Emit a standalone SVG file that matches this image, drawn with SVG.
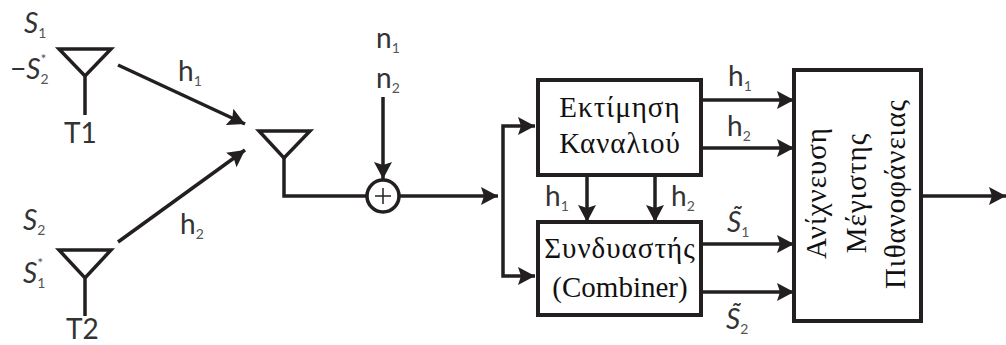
<svg xmlns="http://www.w3.org/2000/svg" width="1006" height="345" viewBox="0 0 1006 345">
<style>
.l{fill:none;stroke:#231f20;stroke-width:3.5}
.b{fill:#fff;stroke:#231f20;stroke-width:4}
.a{font-family:Lato,"Liberation Sans",sans-serif;fill:#333}
.i{font-style:italic}
.s{font-size:28px}.lab{font-size:28px}
.sub{font-size:14px;font-style:normal;fill:#555}
.t{font-family:"Liberation Serif",serif;font-size:29px;fill:#111;text-anchor:middle}
</style>
<defs><marker id="m" markerUnits="userSpaceOnUse" markerWidth="20" markerHeight="20" refX="17" refY="10" orient="auto"><path d="M0 1L17 10L0 19L3 10Z" fill="#231f20"/></marker></defs>
<g id="connectors">
<path class="l" d="M118 65L245 124" marker-end="url(#m)"/>
<path class="l" d="M118 242L245 150" marker-end="url(#m)"/>
<path class="l" d="M284 158V196H367"/>
<path class="l" d="M383 97V179" marker-end="url(#m)"/>
<path class="l" d="M399 196H498" marker-end="url(#m)"/>
<path class="l" d="M503 201V276H535" marker-end="url(#m)"/>
<path class="l" d="M503 201V126H535" marker-end="url(#m)"/>
<path class="l" d="M587 175V222" marker-end="url(#m)"/>
<path class="l" d="M655 175V222" marker-end="url(#m)"/>
<path class="l" d="M701 100H794" marker-end="url(#m)"/>
<path class="l" d="M701 148H794" marker-end="url(#m)"/>
<path class="l" d="M701 244H794" marker-end="url(#m)"/>
<path class="l" d="M701 292H794" marker-end="url(#m)"/>
<path class="l" d="M921 196H1006" marker-end="url(#m)"/>
</g>
<g id="T1"><path class="l" d="M59 49H111L85 76ZM85 76V115"/>
<text class="a i s" x="24" y="33">S<tspan class="sub" dy="5">1</tspan></text>
<text class="a i s" x="10" y="79">−S<tspan class="sub" dy="5">2</tspan><tspan class="sub" dx="-8" dy="-20">*</tspan></text>
<text class="a lab" x="64" y="143">T1</text></g>
<g id="T2"><path class="l" d="M59 250H111L85 278ZM85 278V316"/>
<text class="a i s" x="23" y="230">S<tspan class="sub" dy="5">2</tspan></text>
<text class="a i s" x="23" y="283">S<tspan class="sub" dy="5">1</tspan><tspan class="sub" dx="-8" dy="-20">*</tspan></text>
<text class="a lab" x="66" y="339">T2</text></g>
<g id="Rx"><path class="l" d="M259 131H310L284 158Z"/></g>
<g id="sum"><circle class="l" cx="383" cy="196" r="16"/><path d="M383 188V204M375 196H391" stroke="#231f20" stroke-width="1.5"/></g>
<g id="labels">
<text class="a lab" x="178" y="81">h<tspan class="sub" dy="5">1</tspan></text>
<text class="a lab" x="180" y="234">h<tspan class="sub" dy="5">2</tspan></text>
<text class="a lab" x="376" y="48">n<tspan class="sub" dy="5">1</tspan></text>
<text class="a lab" x="376" y="88">n<tspan class="sub" dy="5">2</tspan></text>
<text class="a lab" x="545" y="206">h<tspan class="sub" dy="5">1</tspan></text>
<text class="a lab" x="671" y="206">h<tspan class="sub" dy="5">2</tspan></text>
<text class="a lab" x="728" y="86">h<tspan class="sub" dy="5">1</tspan></text>
<text class="a lab" x="727" y="136">h<tspan class="sub" dy="5">2</tspan></text>
<text class="a i s" x="727" y="232">S̃<tspan class="sub" dy="5">1</tspan></text>
<text class="a i s" x="726" y="329">S̃<tspan class="sub" dy="5">2</tspan></text>
</g>
<g id="estimator"><rect class="b" x="538" y="80" width="163" height="95"/>
<text class="t" x="620" y="117" letter-spacing="1">Εκτίμηση</text><text class="t" x="620" y="153" letter-spacing="1">Καναλιού</text></g>
<g id="combiner"><rect class="b" x="538" y="222" width="163" height="93"/>
<text class="t" x="620" y="258" letter-spacing="1">Συνδυαστής</text><text class="t" x="620" y="297">(Combiner)</text></g>
<g id="detector"><rect class="b" x="794" y="70" width="127" height="251"/>
<text class="t" transform="translate(826 193) rotate(-90)" letter-spacing="1">Ανίχνευση</text>
<text class="t" transform="translate(866 193) rotate(-90)" letter-spacing="1">Μέγιστης</text>
<text class="t" transform="translate(905 194) rotate(-90)" letter-spacing="1">Πιθανοφάνειας</text></g>
</svg>
